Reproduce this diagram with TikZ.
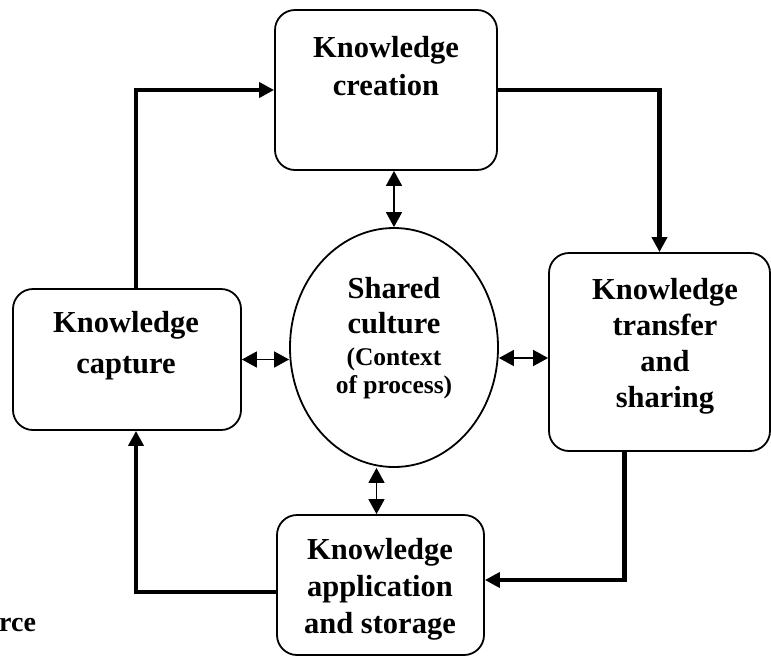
\documentclass[tikz,border=0pt]{standalone}
\usepackage{fontspec}
\setmainfont{Liberation Serif}
\usetikzlibrary{arrows.meta,shapes.geometric,calc}
\newcommand\lblfont{\fontsize{30.5}{38}\selectfont\bfseries}
\newcommand\ctxfont{\fontsize{25.5}{27.5}\selectfont\bfseries}
\begin{document}
\begin{tikzpicture}[x=1pt,y=-1pt,
  box/.style={draw, line width=1.8pt, rounded corners=20pt, inner sep=0pt},
  lbl/.style={font=\lblfont, align=center, anchor=base, inner sep=0pt},
  flow/.style={line width=4.5pt, -{Triangle[length=15pt,width=15pt]}},
  link/.style={line width=1.6pt, {Triangle[length=15pt,width=16pt]}-{Triangle[length=15pt,width=16pt]}}]
\useasboundingbox (0,0) rectangle (771,657);

% the four stages of the cycle
\node[box, minimum width=222pt, minimum height=160pt] (create)   at (386,90)    {};
\node[box, minimum width=221pt, minimum height=198pt] (transfer) at (659.5,352) {};
\node[box, minimum width=228pt, minimum height=141pt] (capture)  at (127,359.5) {};
\node[box, minimum width=207pt, minimum height=140pt] (apply)    at (380.5,585) {};

% shared culture in the middle
\node[draw, ellipse, line width=1.8pt, inner sep=0pt, minimum width=208pt, minimum height=239pt] (shared) at (394,347.5) {};

% labels (placed by the baseline of their last line)
\node[lbl] (createtxt)   at (386,95)  {Knowledge\\creation};
\node[lbl, font=\fontsize{30.5}{36}\selectfont\bfseries] (transfertxt) at (665,407) {Knowledge\\transfer\\and\\sharing};
\node[lbl, font=\fontsize{30.5}{41}\selectfont\bfseries] (capturetxt)  at (126,373) {Knowledge\\capture};
\node[lbl, font=\fontsize{30.5}{37}\selectfont\bfseries] (applytxt)    at (380,633) {Knowledge\\application\\and storage};
\node[lbl, font=\fontsize{30.5}{35}\selectfont\bfseries] (sharedtxt) at (394,333) {Shared\\culture};
\node[lbl, font=\ctxfont] (ctxtxt) at (394,393) {(Context\\of process)};
\node[font=\fontsize{28}{32}\selectfont\bfseries, anchor=base west, inner sep=0pt] (srctxt) at (-1,631) {rce};

% clockwise flow between the stages
\draw[flow] ([xshift=9pt]capture.north) |- (create.west);
\draw[flow] (create.east) -| (transfer.north);
\draw[flow] ([xshift=-35pt]transfer.south) |- ([yshift=5pt]apply.east);
\draw[flow] ([yshift=-7pt]apply.west) -| ([xshift=9pt]capture.south);

% two-way links with the shared culture
\draw[link] (shared.north) -- (shared.north |- create.south);
\draw[link] (capture.east) -- (capture.east -| shared.west);
\draw[link] ($(transfer.west)+(0,6)$) -- ($(transfer.west -| shared.east)+(0,6)$);
\draw[link] ($(apply.north)+(-4,0)$) -- ($(apply.north |- shared.south)+(-4,0)$);
\end{tikzpicture}
\end{document}
